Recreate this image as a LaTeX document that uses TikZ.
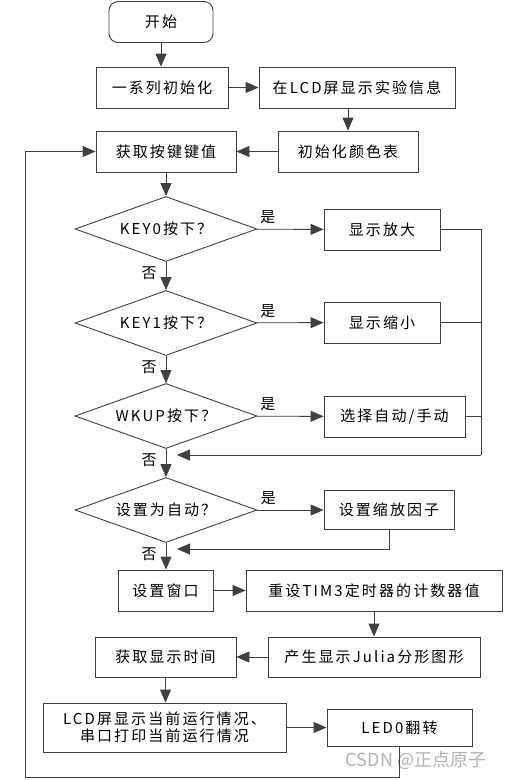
\documentclass[tikz,border=0pt]{standalone}
\usepackage{fontspec}
\newfontfamily\cjk[LetterSpace=14]{Noto Sans CJK SC}
\newfontfamily\wmark{Noto Sans CJK SC}
\usepackage{tikz}
\usetikzlibrary{positioning, calc, arrows.meta, shapes.geometric}

\begin{document}
\begin{tikzpicture}[x=1pt, y=-1pt, line width=0.9pt, color=black!75, text=black,
	font=\cjk\fontsize{15}{19}\selectfont,
	box/.style={draw, minimum height=41pt, inner sep=0pt},
	term/.style={box, rounded corners=9pt},
	cond/.style={draw, diamond, aspect=2.8, minimum width=182pt, minimum height=65pt, inner sep=0pt},
	flow/.style={-{Triangle[length=13pt, width=11pt]}},
	yes/.style={pos=0, anchor=south west, inner sep=1pt, xshift=2pt, yshift=4pt},
	no/.style={pos=0, anchor=north east, inner sep=1pt, xshift=-8pt, yshift=-3pt}]
\useasboundingbox (0,0) rectangle (504,780);
\node[text=black!30, font=\wmark\fontsize{18}{20}\selectfont] (csdn) at (416,760) {CSDN @正点原子};

% initialisation
\node[term, minimum width=104pt] (start) at (161,22) {开始};
\node[box, minimum width=132pt] (init) at (162,87.5) {一系列初始化};
\node[box, minimum width=196pt] (info) at (357,87.5) {在LCD屏显示实验信息};
\node[box, minimum width=140pt] (color) at (348,151.5) {初始化颜色表};
\node[box, minimum width=140pt] (getkey) at (166,151.5) {获取按键键值};
\draw[flow] (start) -- (start |- init.north);
\draw[flow] (init) -- (info);
\draw[flow] (color.north |- info.south) -- (color);
\draw[flow] (color) -- (getkey);

% key checks
\node[cond] (k0) at (166,229) {KEY0按下？};
\node[cond] (k1) at (166,323) {KEY1按下？};
\node[cond] (wk) at (166,416) {WKUP按下？};
\node[cond] (auto) at (166,510) {设置为自动？};
\node[box, minimum width=116pt] (zin) at (382,229.5) {显示放大};
\node[box, minimum width=116pt] (zout) at (382,322.5) {显示缩小};
\node[box, minimum width=141pt] (mode) at (394.5,416.5) {选择自动/手动};
\node[box, minimum width=130pt, minimum height=39pt] (factor) at (389,510) {设置缩放因子};
\coordinate (rj) at (481,455);
\coordinate (mj) at (177,455);
\coordinate (fj) at (177,549);
\draw[flow] (getkey) -- (k0);
\draw[flow] (k0) -- node[yes] (y0) {是} (zin);
\draw[flow] (k1) -- node[yes] (y1) {是} (zout);
\draw[flow] (wk) -- node[yes] (y2) {是} (mode);
\draw[flow] (auto) -- node[yes] (y3) {是} (factor);
\draw[flow] (k0) -- node[no] (n0) {否} (k1);
\draw[flow] (k1) -- node[no] (n1) {否} (wk);
\draw[flow] (wk) -- node[no] (n2) {否} (auto);
\draw (zin) -| (rj) (zout) -| (rj) (mode) -| (rj);
\draw[flow] (rj) -- (mj);
\draw[flow] (factor) |- (fj);

% display part
\node[box, minimum width=95pt] (win) at (165.5,590.5) {设置窗口};
\node[box, minimum width=256pt] (tim) at (374,590.5) {重设TIM3定时器的计数器值};
\node[box, minimum width=212pt, minimum height=40pt] (julia) at (374,657) {产生显示Julia分形图形};
\node[box, minimum width=141pt, minimum height=40pt] (time) at (165.5,657) {获取显示时间};
\node[box, minimum width=243pt, minimum height=49pt, align=center, font=\cjk\fontsize{15}{17}\selectfont] (lcd) at (164.5,727.5) {LCD屏显示当前运行情况、\\串口打印当前运行情况};
\node[box, minimum width=145pt, minimum height=37pt] (led) at (399.5,727.5) {LED0翻转};
\coordinate (loop) at (25,777);
\draw[flow] (auto) -- node[no] (n3) {否} (auto |- win.north);
\draw[flow] (win) -- (tim);
\draw[flow] (tim) -- (julia);
\draw[flow] (julia) -- (time);
\draw[flow] (time) -- (time |- lcd.north);
\draw[flow] (lcd) -- (led);
\draw[flow] (led) |- (loop) |- (getkey);
\end{tikzpicture}
\end{document}
